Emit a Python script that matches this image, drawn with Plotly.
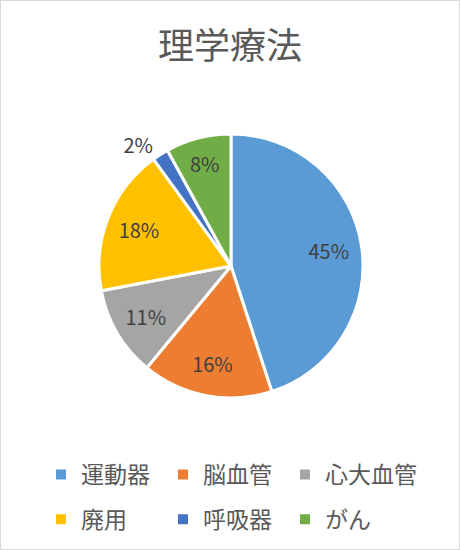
import plotly.graph_objects as go

title = "理学療法"
categories = ["運動器", "脳血管", "心大血管", "廃用", "呼吸器", "がん"]
values = [45, 16, 11, 18, 2, 8]
colors = ["#5B9BD5", "#ED7D31", "#A5A5A5", "#FFC000", "#4472C4", "#70AD47"]
text_positions = ["inside", "inside", "inside", "inside", "outside", "inside"]

FONT = "Noto Sans CJK JP"
W, H = 460, 550
cx, cy, r = 231, 266, 132
pie_domain = dict(x=[(cx - r) / W, (cx + r) / W], y=[1 - (cy + r) / H, 1 - (cy - r) / H])
tiny = dict(x=[0.70, 0.7001], y=[0.55, 0.5501])

fig = go.Figure()

# legend carriers: three column legends, two rows each
leg_names = ["legend", "legend2", "legend3"]
for i, (lab, val, col) in enumerate(zip(categories, values, colors)):
    fig.add_trace(go.Pie(
        labels=[lab], values=[val], sort=False,
        marker=dict(colors=[col], line=dict(color="white", width=2)),
        textinfo="none", hoverinfo="skip", domain=tiny,
        legend=leg_names[i % 3], legendgroup=f"g{i}", showlegend=True,
    ))

# main pie
fig.add_trace(go.Pie(
    labels=categories, values=values, sort=False, direction="clockwise", rotation=0,
    marker=dict(colors=colors, line=dict(color="white", width=3)),
    textinfo="none", domain=pie_domain, showlegend=False,
    hoverinfo="label+percent",
))

# label ring (transparent) so the percentages sit near the outer part of each slice
fig.add_trace(go.Pie(
    labels=categories, values=values, sort=False, direction="clockwise", rotation=0,
    hole=0.5,
    marker=dict(colors=["rgba(0,0,0,0)"] * len(values), line=dict(width=0)),
    texttemplate="%{percent:.0%}", textposition=text_positions,
    insidetextorientation="horizontal",
    textfont=dict(family=FONT, size=20, color="#404040"),
    domain=pie_domain, showlegend=False, hoverinfo="skip",
))

leg_common = dict(orientation="v", xanchor="left", yanchor="top", y=1 - 453 / H,
                  font=dict(family=FONT, size=23, color="#595959"),
                  itemwidth=30, tracegroupgap=12, traceorder="grouped",
                  bgcolor="rgba(0,0,0,0)")
col_x = [41, 163, 285]

fig.update_layout(
    width=W, height=H,
    margin=dict(l=0, r=0, t=0, b=0),
    paper_bgcolor="white",
    title=dict(text=title, x=0.5, xanchor="center", y=1 - 46 / H, yanchor="middle",
               font=dict(family=FONT, size=36, color="#595959")),
    legend=dict(x=col_x[0] / W, **leg_common),
    legend2=dict(x=col_x[1] / W, **leg_common),
    legend3=dict(x=col_x[2] / W, **leg_common),
    shapes=[dict(type="rect", xref="paper", yref="paper", x0=0, y0=0, x1=1, y1=1,
                 line=dict(color="#D9D9D9", width=2))],
)

fig.write_html("out.html", config={"displayModeBar": False},
               post_script="document.body.style.margin='0';")
